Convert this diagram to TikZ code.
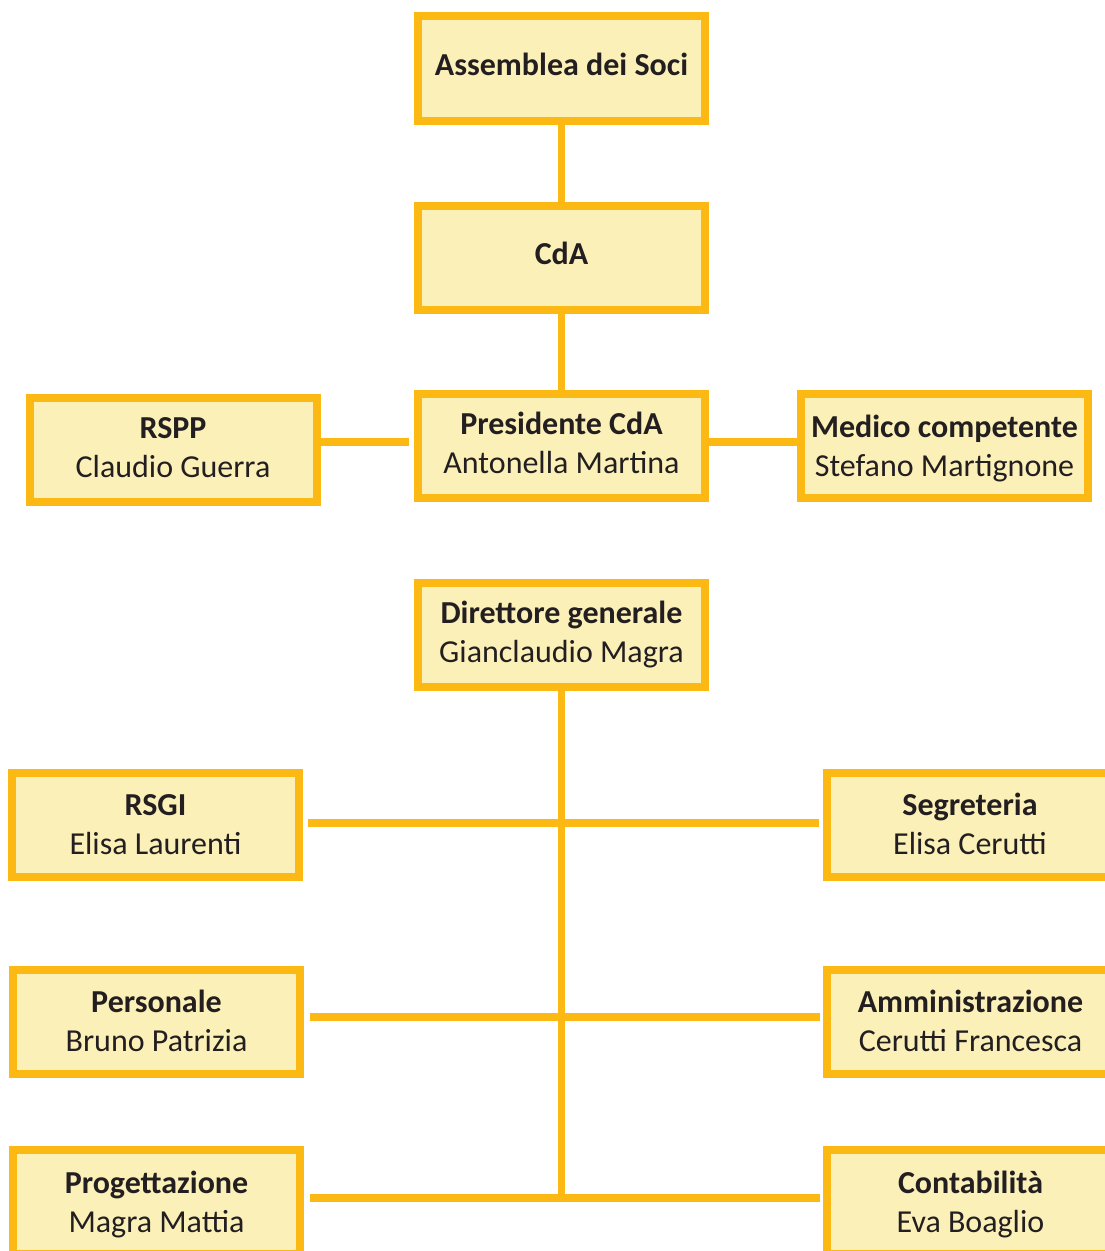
\documentclass[tikz,border=0pt]{standalone}
\usepackage{fontspec}
\setmainfont{Carlito}
\usetikzlibrary{backgrounds}
\definecolor{bordc}{RGB}{253,185,19}
\definecolor{fillc}{RGB}{252,240,185}
\definecolor{txtc}{RGB}{35,31,32}
\newcommand\orgtwo[2]{\strut\textbf{#1}\\\strut #2}
\newcommand\orgone[1]{\strut\textbf{#1}}
\tikzset{
  box/.style 2 args={draw=bordc, fill=fillc, line width=8pt, minimum width=287pt,
    minimum height=104pt, inner sep=0pt,
    label={[lbl, yshift=#1]center:#2}},
  lbl/.style={align=center, inner sep=0pt, text=txtc,
    font=\fontsize{32}{39}\selectfont},
  conn/.style={draw=bordc, line width=7.5pt}
}
\begin{document}
\begin{tikzpicture}[x=1pt,y=-1pt]
\useasboundingbox (0,0) rectangle (1105,1251);
\clip (0,0) rectangle (1105,1251);
\node[box={1.3pt}{\orgone{Assemblea dei Soci}}, minimum height=105pt] (ass) at (561.5,68.5) {};
\node[box={1.3pt}{\orgone{CdA}}] (cda) at (561.5,257.5) {};
\node[box={0pt}{\orgtwo{Presidente CdA}{Antonella Martina}}] (pres) at (561.5,446) {};
\node[box={0pt}{\orgtwo{RSPP}{Claudio Guerra}}] (rspp) at (173,450) {};
\node[box={-3pt}{\orgtwo{Medico competente}{Stefano Martignone}}] (med) at (944.5,446) {};
\node[box={0pt}{\orgtwo{Direttore generale}{Gianclaudio Magra}}] (dir) at (561.5,635) {};
\node[box={-3pt}{\orgtwo{RSGI}{Elisa Laurenti}}] (rsgi) at (155.5,824.5) {};
\node[box={-3pt}{\orgtwo{Segreteria}{Elisa Cerutti}}] (seg) at (970,824.5) {};
\node[box={-3pt}{\orgtwo{Personale}{Bruno Patrizia}}] (pers) at (156.5,1021.5) {};
\node[box={-3pt}{\orgtwo{Amministrazione}{Cerutti Francesca}}] (amm) at (970.5,1021.5) {};
\node[box={-3pt}{\orgtwo{Progettazione}{Magra Mattia}}] (prog) at (156.5,1202) {};
\node[box={-3pt}{\orgtwo{Contabilità}{Eva Boaglio}}] (cont) at (970.5,1202) {};
\coordinate (h1) at (561.5,823);
\coordinate (h2) at (561.5,1017);
\coordinate (h3) at (561.5,1198);
\coordinate (vend) at (561.5,1201.5);
\begin{scope}[on background layer]
\draw[conn] (ass.south) -- (cda.north);
\draw[conn] (cda.south) -- (pres.north);
\draw[conn, shorten <=5pt] ([yshift=4pt]pres.west) -- ([yshift=4pt]pres.west -| rspp.east);
\draw[conn] ([yshift=4pt]pres.east) -- ([yshift=4pt]pres.east -| med.west);
\draw[conn] (dir.south) -- (vend);
\draw[conn, shorten <=5pt, shorten >=4pt] (rsgi.east |- h1) -- (seg.west |- h1);
\draw[conn, shorten <=6pt, shorten >=3pt] (pers.east |- h2) -- (amm.west |- h2);
\draw[conn, shorten <=6pt, shorten >=3pt] (prog.east |- h3) -- (cont.west |- h3);
\end{scope}
\end{tikzpicture}
\end{document}
